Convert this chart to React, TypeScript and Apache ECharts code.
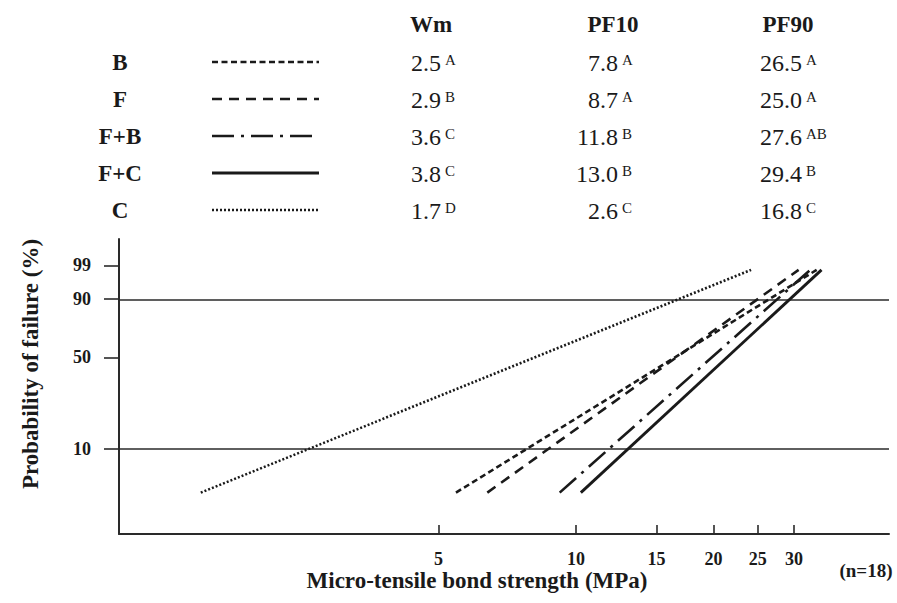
import React, { useEffect, useRef } from "react";
import * as echarts from "echarts";

// ---- data ----
const groups = ["B", "F", "F+B", "F+C", "C"];
const wm = [2.5, 2.9, 3.6, 3.8, 1.7];
const wmSig = ["A", "B", "C", "C", "D"];
const pf10 = [7.8, 8.7, 11.8, 13.0, 2.6];
const pf10Sig = ["A", "A", "B", "B", "C"];
const pf90 = [26.5, 25.0, 27.6, 29.4, 16.8];
const pf90Sig = ["A", "A", "AB", "B", "C"];
const probTicks = [10, 50, 90, 99];
const strengthTicks = [5, 10, 15, 20, 25, 30];
const refLines = [10, 90];
const fLow = [4.2, 4.2, 4.2, 4.2, 4.2];
const fHigh = [98.5, 98.5, 98.5, 98.5, 98.5];

// ---- styles ----
const INK = "#1a1a1a";
const AXIS = "#2a2a2a";
const SERIF = "Liberation Serif";
const dashes: (number[] | null)[] = [[6, 3.5], [10, 7], [22, 7, 3, 7], null, [2, 2]];
const widths = [2.6, 2.6, 2.6, 2.9, 2.6];

const W = (p: number) => Math.log(-Math.log(1 - p / 100));
const invW = (v: number) => (1 - Math.exp(-Math.exp(v))) * 100;

function lineFor(i: number): number[][] {
  const y10 = W(10);
  const y90 = W(90);
  const m = (y90 - y10) / (Math.log(pf90[i]) - Math.log(pf10[i]));
  const xAt = (y: number) => Math.log(pf10[i]) + (y - y10) / m;
  const ya = W(fLow[i]);
  const yb = W(fHigh[i]);
  return [
    [xAt(ya), ya],
    [xAt(yb), yb],
  ];
}

const rowY = [62, 99, 136, 173, 210];

function txt(x: number, y: number, text: string, size: number, bold: boolean, align: string, valign: string) {
  return {
    type: "text",
    x,
    y,
    style: {
      text,
      fontFamily: SERIF,
      fontWeight: bold ? "bold" : "normal",
      fontSize: size,
      fill: INK,
      align,
      verticalAlign: valign,
      textAlign: align,
      textVerticalAlign: valign,
    },
  };
}

export default function App() {
  const ref = useRef<HTMLDivElement>(null);
  useEffect(() => {
    if (!ref.current) return;
    const chart = echarts.init(ref.current, undefined, { renderer: "svg" });

    const graphics: any[] = [];
    const headers = [
      { t: "Wm", x: 431 },
      { t: "PF10", x: 613 },
      { t: "PF90", x: 788 },
    ];
    headers.forEach((h) => graphics.push(txt(h.x, 24, h.t, 23, true, "center", "middle")));
    const cols = [
      { vals: wm, sig: wmSig, x: 441 },
      { vals: pf10, sig: pf10Sig, x: 618 },
      { vals: pf90, sig: pf90Sig, x: 802 },
    ];
    groups.forEach((g, i) => {
      const y = rowY[i];
      graphics.push(txt(120, y, g, 23, true, "center", "middle"));
      graphics.push({
        type: "line",
        shape: { x1: 212, y1: y, x2: 319, y2: y },
        style: {
          stroke: INK,
          lineWidth: widths[i],
          lineDash: dashes[i] || null,
        },
      });
      cols.forEach((c) => {
        graphics.push(txt(c.x, y + 1, c.vals[i].toFixed(1), 24, false, "right", "middle"));
        graphics.push(txt(c.x + 4, y - 10, c.sig[i], 15, false, "left", "top"));
      });
    });
    graphics.push(txt(866, 570, "(n=18)", 19, true, "center", "middle"));

    const series: any[] = groups.map((g, i) => ({
      name: g,
      type: "line",
      data: lineFor(i),
      showSymbol: false,
      symbol: "none",
      silent: true,
      lineStyle: {
        color: INK,
        width: widths[i],
        type: dashes[i] || "solid",
        cap: "butt",
      },
      z: 3,
      ...(i === 0
        ? {
            markLine: {
              silent: true,
              symbol: "none",
              label: { show: false },
              lineStyle: { color: AXIS, width: 1.6, type: "solid" },
              data: refLines.map((p) => ({ yAxis: W(p) })),
              z: 1,
            },
          }
        : {}),
    }));

    chart.setOption({
      animation: false,
      grid: { left: 119, right: 8, top: 239, bottom: 69, containLabel: false },
      xAxis: {
        type: "value",
        min: 0,
        max: 3.88,
        name: "Micro-tensile bond strength (MPa)",
        nameLocation: "middle",
        nameGap: 35,
        nameTextStyle: {
          fontFamily: SERIF,
          fontWeight: "bold",
          fontSize: 23,
          color: INK,
          padding: [0, 54, 0, 0],
        },
        axisLine: { show: true, onZero: false, lineStyle: { color: AXIS, width: 2 } },
        axisTick: {
          show: true,
          inside: true,
          length: 9,
          customValues: strengthTicks.map((v) => Math.log(v)),
          lineStyle: { color: AXIS, width: 1.6 },
        },
        axisLabel: {
          customValues: strengthTicks.map((v) => Math.log(v)),
          formatter: (v: number) => String(Math.round(Math.exp(v))),
          margin: 16,
          fontFamily: SERIF,
          fontWeight: "bold",
          fontSize: 18,
          color: INK,
        },
        splitLine: { show: false },
      },
      yAxis: {
        type: "value",
        min: -4,
        max: 2.07,
        name: "Probability of failure (%)",
        nameLocation: "middle",
        nameGap: 77,
        nameTextStyle: {
          fontFamily: SERIF,
          fontWeight: "bold",
          fontSize: 23,
          color: INK,
          padding: [0, 0, 0, 45],
        },
        axisLine: { show: true, onZero: false, lineStyle: { color: AXIS, width: 2 } },
        axisTick: {
          show: true,
          inside: false,
          length: 15,
          customValues: probTicks.map((p) => W(p)),
          lineStyle: { color: AXIS, width: 1.6 },
        },
        axisLabel: {
          customValues: probTicks.map((p) => W(p)),
          formatter: (v: number) => String(Math.round(invW(v))),
          margin: 28,
          fontFamily: SERIF,
          fontWeight: "bold",
          fontSize: 18,
          color: INK,
        },
        splitLine: { show: false },
      },
      graphic: graphics,
      series,
    });
    return () => chart.dispose();
  }, []);
  return (
    <div
      ref={ref}
      style={{ position: "fixed", left: 0, top: 0, width: 897, height: 603, background: "#fff" }}
    />
  );
}
